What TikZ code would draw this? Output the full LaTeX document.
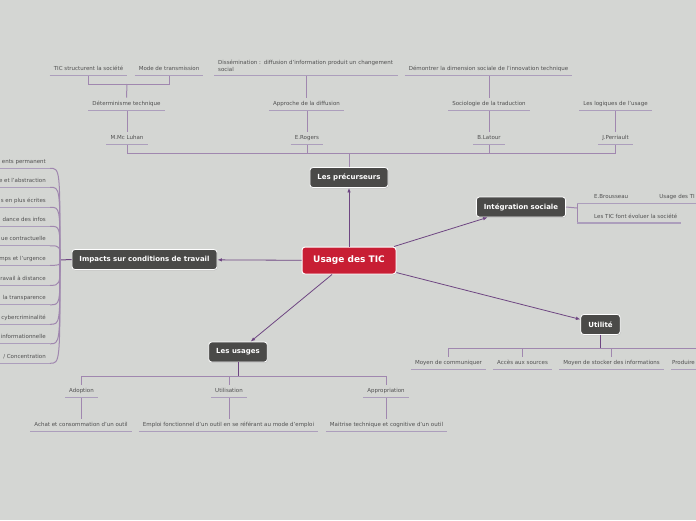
\documentclass[tikz,border=0pt]{standalone}
\usepackage{fontspec}
\setmainfont{DejaVu Sans}
\usetikzlibrary{arrows.meta,shadows}
\definecolor{bg}{RGB}{212,214,211}
\definecolor{tred}{RGB}{200,30,52}
\definecolor{tdark}{RGB}{74,74,72}
\definecolor{tmain}{RGB}{110,70,130}
\definecolor{tsub}{RGB}{160,135,175}
\definecolor{tul}{RGB}{172,158,188}
\definecolor{ttext}{RGB}{80,80,80}
\begin{document}
\begin{tikzpicture}[x=1pt,y=-1pt,
  root/.style={fill=tred, draw=white, line width=1pt, rounded corners=3pt, text=white,
    font=\fontsize{9}{10}\selectfont\bfseries, inner xsep=10pt, minimum height=27pt, minimum width=94pt,
    drop shadow={shadow xshift=0.6pt, shadow yshift=-0.8pt, opacity=0.3}},
  topic/.style={fill=tdark, draw=white, line width=0.8pt, rounded corners=3pt, text=white,
    font=\fontsize{7}{8}\selectfont\bfseries, inner xsep=7.5pt, minimum height=20pt,
    drop shadow={shadow xshift=0.6pt, shadow yshift=-0.8pt, opacity=0.3}},
  leaf/.style={text=ttext, font=\fontsize{5.5}{7}\selectfont, inner xsep=4pt, inner ysep=3.5pt,
    text height=4pt, text depth=1.2pt},
  uline/.style={draw=tul, line width=1.2pt},
  conn/.style={draw=tmain, line width=0.8pt, -{Latex[length=4.5pt,width=3.5pt]}},
  sub/.style={draw=tsub, line width=1pt},
  mainline/.style={draw=tmain, line width=1pt},
]
\useasboundingbox (0,0) rectangle (696,520);
\fill[bg] (0,0) rectangle (696,520);
\clip (0,0) rectangle (696,520);
\coordinate (leftedge) at (0,0);
\coordinate (rightedge) at (696,0);

% central and topics
\node[root] (c) at (349,260.5) {Usage des TIC};
\node[topic] (prec) at (349,177.5) {Les précurseurs};
\node[topic] (integ) at (521,207) {Intégration sociale};
\node[topic] (util) at (600.5,324.5) {Utilité};
\node[topic] (usages) at (238,352) {Les usages};
\node[topic] (imp) at (144.5,259.5) {Impacts sur conditions de travail};

\draw[conn] (c) -- (prec);
\draw[conn] (c) -- (integ);
\draw[conn] (c) -- (util);
\draw[conn] (c) -- (usages);
\draw[conn] (c) -- (imp);

% precurseurs
\node[leaf] (tic) at (88.5,69) {TIC structurent la société};
\node[leaf] (mode) at (169,69) {Mode de transmission};
\node[leaf] (det) at (126.5,104) {Déterminisme technique};
\node[leaf] (mc) at (127,138) {M.Mc Luhan};
\node[leaf, anchor=south west, text width=176pt, align=left, text height=, text depth=] (diss) at (214,75.6)
  {Dissémination : diffusion d'information produit un changement\\social};
\node[leaf] (appr) at (306.5,104) {Approche de la diffusion};
\node[leaf] (rogers) at (307,138) {E.Rogers};
\node[leaf] (dem) at (488.5,69) {Démontrer la dimension sociale de l'innovation technique};
\node[leaf] (socio) at (489,104) {Sociologie de la traduction};
\node[leaf] (latour) at (489,138) {B.Latour};
\node[leaf] (logi) at (615.5,104) {Les logiques de l'usage};
\node[leaf] (perr) at (615.5,138) {J.Perriault};

\coordinate (pb) at (349,153);
\draw[sub] (prec.north) -- (pb);
\foreach \n in {mc,rogers,latour,perr} \draw[sub] (pb) -| (\n.south);
\draw[sub] (mc.north) -- (mc.north |- det.south);
\coordinate (db) at (127,84);
\draw[sub] (det.north) -- (db);
\draw[sub] (db) -| (tic.south);
\draw[sub] (db) -| (mode.south);
\draw[sub] (rogers.north) -- (rogers.north |- appr.south);
\draw[sub] (appr.north) -- (appr.north |- diss.south);
\draw[sub] (latour.north) -- (socio.south);
\draw[sub] (socio.north) -- (socio.north |- dem.south);
\draw[sub] (perr.north) -- (logi.south);

% integration sociale
\node[leaf, anchor=south west] (brou) at (590,203.5) {E.Brousseau};
\node[leaf, anchor=south east, inner xsep=1pt] (usetic) at (696,203.5) {Usage des TI};
\node[leaf, anchor=south west] (evol) at (590,223) {Les TIC font évoluer la société};
\coordinate (ib) at (577,208);
\draw[sub] (integ.east) -- (ib);
\draw[sub] (ib |- brou.south) -- (ib |- evol.south);
\draw[uline] (ib |- brou.south) -- (brou.south east);
\draw[uline] (brou.south east) -- (usetic.south east);
\draw[uline] (ib |- evol.south) -- (evol.south east);

% utilite
\node[leaf] (com) at (448.5,363) {Moyen de communiquer};
\node[leaf] (acces) at (522.5,363) {Accès aux sources};
\node[leaf] (stock) at (611.5,363) {Moyen de stocker des informations};
\node[leaf, anchor=east, inner xsep=1pt] (prod) at (696,363) {Produire};
\coordinate (ub) at (600.5,348);
\draw[mainline] (util.south) -- (ub);
\foreach \n in {com,acces,stock} \draw[sub] (ub) -| (\n.north);
\draw[sub] (ub) -- (rightedge |- ub);
\draw[uline] (prod.south east) -- ++(-25,0);

% les usages
\node[leaf] (adop) at (81.5,391) {Adoption};
\node[leaf] (utilis) at (229,391) {Utilisation};
\node[leaf] (appro) at (386,391) {Appropriation};
\node[leaf] (achat) at (81,425) {Achat et consommation d'un outil};
\node[leaf] (emploi) at (228.5,425) {Emploi fonctionnel d'un outil en se référant au mode d'emploi};
\node[leaf] (maitr) at (386.5,425) {Maitrise technique et cognitive d'un outil};
\coordinate (sb) at (238,376);
\draw[mainline] (usages.south) -- (sb);
\foreach \n in {adop,utilis,appro} \draw[sub] (sb) -| (\n.north);
\draw[sub] (adop.south) -- (adop.south |- achat.north);
\draw[sub] (utilis.south) -- (utilis.south |- emploi.north);
\draw[sub] (appro.south) -- (appro.south |- maitr.north);

% impacts
\node[leaf, anchor=east] (i1) at (50,162) {ents permanent};
\node[leaf, anchor=east] (i2) at (50,181) {e et l'abstraction};
\node[leaf, anchor=east] (i3) at (50,201) {s en plus écrites};
\node[leaf, anchor=east] (i4) at (50,220) {dance des infos};
\node[leaf, anchor=east] (i5) at (50,239.5) {ue contractuelle};
\node[leaf, anchor=east] (i6) at (50,259) {mps et l'urgence};
\node[leaf, anchor=east] (i7) at (50,279) {ravail à distance};
\node[leaf, anchor=east] (i8) at (50,298.5) {la transparence};
\node[leaf, anchor=east] (i9) at (50,318) {cybercriminalité};
\node[leaf, anchor=east] (i10) at (50,337.5) {informationnelle};
\node[leaf, anchor=east] (i11) at (50,357) {/ Concentration};
\coordinate (hub) at (60,260);
\draw[mainline] (imp.west) -- (hub);
\foreach \i in {1,...,11} {
  \draw[sub] (hub) .. controls (hub |- i\i.south east) .. (i\i.south east);
  \draw[uline] (leftedge |- i\i.south east) -- (i\i.south east);
}

% underlines
\foreach \n in {tic,mode,det,mc,diss,appr,rogers,dem,socio,latour,logi,perr,
  com,acces,stock,adop,utilis,appro,achat,emploi,maitr}
  \draw[uline] (\n.south west) -- (\n.south east);
\end{tikzpicture}
\end{document}
